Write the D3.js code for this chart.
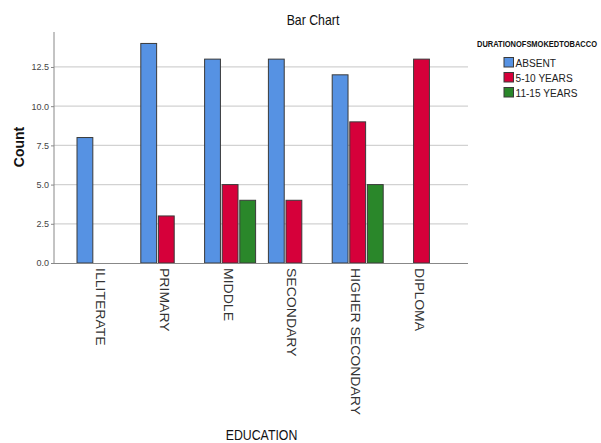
<!DOCTYPE html>
<html><head><meta charset="utf-8">
<script src="https://cdn.jsdelivr.net/npm/d3@7"></script>
<style>body{margin:0;background:#fff}svg{display:block}</style>
</head><body>
<script>
const categories = ["ILLITERATE","PRIMARY","MIDDLE","SECONDARY","HIGHER SECONDARY","DIPLOMA"];
const seriesNames = ["ABSENT","5-10 YEARS","11-15 YEARS"];
const absent = [8,14,13,13,12,0];
const years5to10 = [0,3,5,4,9,13];
const years11to15 = [0,0,4,0,5,0];
const yTicks = [0,2.5,5,7.5,10,12.5];
const colors = ["#5692e3","#d6003a","#2a872a"];
const seriesValues = [absent, years5to10, years11to15];

(function(){
const W=601,H=443;
const svg=d3.select("body").append("svg").attr("width",W).attr("height",H);
const pl=54,pr=468,pt=32,pb=263;
const y=d3.scaleLinear().domain([0,14.73]).range([pb,pt]);
const x=d3.scalePoint().domain(categories).range([102.5,421.5]);
const xs=d3.scaleBand().domain(seriesNames).range([-25.5,25.5]).paddingInner(0.1);

svg.append("g").selectAll("line").data(yTicks.filter(d=>d>0)).join("line")
 .attr("x1",pl).attr("x2",pr).attr("y1",d=>y(d)).attr("y2",d=>y(d))
 .attr("stroke","#d2d2d2").attr("stroke-width",1.2);

const ya=svg.append("g").attr("transform",`translate(${pl},0)`)
 .call(d3.axisLeft(y).tickValues(yTicks).tickFormat(d3.format(".1f")).tickSize(3).tickPadding(2));
ya.select(".domain").attr("stroke","#888").attr("d",`M0,${pt}V${pb}`);
ya.selectAll(".tick line").attr("stroke","#888");
ya.selectAll("text").attr("font-family","Liberation Sans, Arial").attr("font-size","9px").attr("fill","#444");

const data=[];
categories.forEach((c,i)=>seriesNames.forEach((s,j)=>{ if(seriesValues[j][i]>0) data.push({c,s,v:seriesValues[j][i],j}); }));
svg.append("g").selectAll("rect").data(data).join("rect")
 .attr("x",d=>x(d.c)+xs(d.s)).attr("width",xs.bandwidth())
 .attr("y",d=>y(d.v)).attr("height",d=>pb-y(d.v))
 .attr("fill",d=>colors[d.j]).attr("stroke","#3a3a3a").attr("stroke-width",1);

svg.append("line").attr("x1",pl).attr("x2",pr).attr("y1",pb+0.5).attr("y2",pb+0.5).attr("stroke","#888");
const xa=svg.append("g").attr("transform",`translate(0,${pb})`)
 .call(d3.axisBottom(x).tickSize(0).tickPadding(0));
xa.select(".domain").remove();
xa.selectAll("text").attr("font-family","Liberation Sans, Arial").attr("font-size","13px").attr("fill","#333")
 .attr("text-anchor","start").attr("dy",0).attr("y",0)
 .attr("transform","translate(-7,5) rotate(90) scale(1.08,1)");

svg.append("text").attr("transform","translate(313,25) scale(0.88,1)").attr("text-anchor","middle")
 .attr("font-family","Liberation Sans, Arial").attr("font-size","14px").attr("fill","#111").text("Bar Chart");
svg.append("text").attr("transform","translate(24,147) rotate(-90)").attr("text-anchor","middle")
 .attr("font-family","Liberation Sans, Arial").attr("font-weight","bold").attr("font-size","14px").attr("fill","#111").text("Count");
svg.append("text").attr("transform","translate(261.5,439.5) scale(0.85,1)").attr("text-anchor","middle")
 .attr("font-family","Liberation Sans, Arial").attr("font-size","14.5px").attr("fill","#111").text("EDUCATION");

svg.append("text").attr("transform","translate(477,47) scale(1,1.15)").attr("textLength",120).attr("lengthAdjust","spacingAndGlyphs")
 .attr("font-family","Liberation Sans, Arial").attr("font-weight","bold").attr("font-size","7.4px").attr("fill","#111").text("DURATIONOFSMOKEDTOBACCO");
const lg=svg.append("g").selectAll("g").data(seriesNames).join("g")
 .attr("transform",(d,i)=>`translate(504,${57.5+i*15})`);
lg.append("rect").attr("width",9.5).attr("height",9.5).attr("fill",(d,i)=>colors[i]).attr("stroke","#3a3a3a").attr("stroke-width",1);
lg.append("text").attr("transform","translate(11.5,9.5) scale(0.88,1)")
 .attr("font-family","Liberation Sans, Arial").attr("font-size","11.5px").attr("fill","#222").text(d=>d);
})();
</script>
</body></html>
